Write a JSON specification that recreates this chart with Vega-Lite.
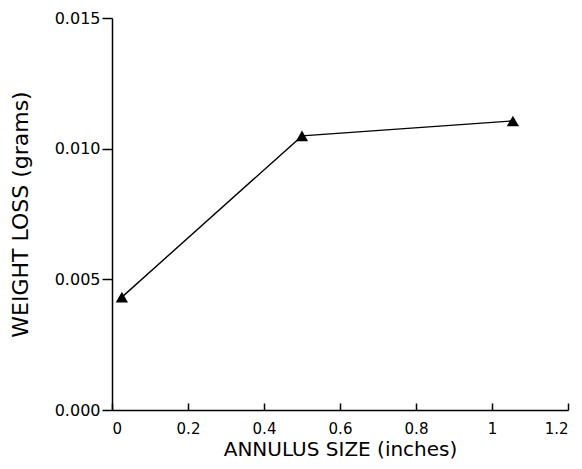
{
  "$schema": "https://vega.github.io/schema/vega-lite/v6.json",
  "width": 456,
  "height": 392,
  "autosize": {"type": "none"},
  "padding": {"left": 112, "top": 18, "right": 14, "bottom": 59},
  "background": "white",
  "config": {
    "view": {"stroke": null},
    "font": "DejaVu Sans",
    "axis": {"grid": false, "domainColor": "black", "tickColor": "black", "labelColor": "black", "titleColor": "black", "domainWidth": 1.5, "tickWidth": 1.5, "labelFont": "DejaVu Sans", "titleFont": "DejaVu Sans", "titleFontWeight": "normal"}
  },
  "data": {
    "values": [
      {"size": 0.026, "loss": 0.00432},
      {"size": 0.5, "loss": 0.01049},
      {"size": 1.055, "loss": 0.01106}
    ]
  },
  "layer": [
    {
      "mark": {"type": "line", "color": "black", "strokeWidth": 1.4},
      "encoding": {
        "x": {"field": "size", "type": "quantitative"},
        "y": {"field": "loss", "type": "quantitative"}
      }
    },
    {
      "mark": {"type": "point", "shape": "triangle-up", "filled": true, "color": "black", "size": 150, "opacity": 1},
      "encoding": {
        "x": {
          "field": "size", "type": "quantitative",
          "scale": {"domain": [0, 1.2], "nice": false, "zero": false},
          "axis": {"title": "ANNULUS SIZE (inches)", "values": [0, 0.2, 0.4, 0.6, 0.8, 1, 1.2], "format": "~g", "tickSize": -7, "labelPadding": 18, "labelFontSize": 15, "titleFontSize": 20, "titlePadding": 3}
        },
        "y": {
          "field": "loss", "type": "quantitative",
          "scale": {"domain": [0, 0.015], "nice": false},
          "axis": {"title": "WEIGHT LOSS (grams)", "values": [0, 0.005, 0.01, 0.015], "format": ".3f", "tickSize": 10, "labelPadding": 2, "labelFontSize": 16, "titleFontSize": 22, "titlePadding": 22}
        }
      }
    }
  ]
}
